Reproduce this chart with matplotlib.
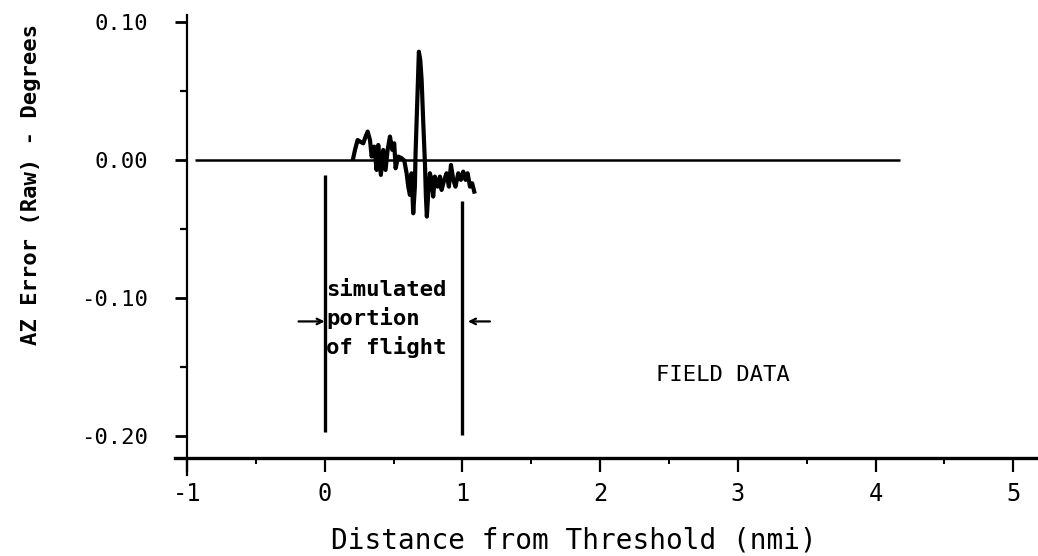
"""AZ error (raw) vs distance from threshold -- field data trace."""
import matplotlib
matplotlib.use("Agg")
import matplotlib.pyplot as plt  # noqa: E402
from matplotlib.ticker import FixedLocator  # noqa: E402

dist = [0.207, 0.220, 0.239, 0.256, 0.280, 0.297, 0.312, 0.329, 0.341, 0.360,
        0.377, 0.389, 0.408, 0.425, 0.442, 0.457, 0.474, 0.491, 0.505, 0.515,
        0.534, 0.558, 0.578, 0.595, 0.607, 0.619, 0.631, 0.643, 0.655, 0.660,
        0.667, 0.675, 0.684, 0.694, 0.704, 0.716, 0.728, 0.735, 0.742, 0.752,
        0.764, 0.776, 0.788, 0.800, 0.820, 0.837, 0.849, 0.868, 0.885, 0.902,
        0.917, 0.934, 0.950, 0.970, 0.989, 1.006, 1.023, 1.038, 1.055, 1.071,
        1.086]
az_err = [0.0013, 0.0073, 0.0145, 0.0134, 0.0121, 0.0170, 0.0206, 0.0145, 0.0025, 0.0097,
          -0.0072, 0.0109, -0.0108, 0.0073, -0.0072, 0.0073, 0.0170, 0.0073, 0.0121, -0.0060,
          0.0025, 0.0013, -0.0004, -0.0096, -0.0193, -0.0253, -0.0096, -0.0386, -0.0193, 0.0049,
          0.0266, 0.0508, 0.0785, 0.0725, 0.0580, 0.0266, -0.0024, -0.0265, -0.0410, -0.0241,
          -0.0096, -0.0144, -0.0265, -0.0120, -0.0193, -0.0120, -0.0217, -0.0144, -0.0096, -0.0193,
          -0.0036, -0.0144, -0.0193, -0.0096, -0.0144, -0.0084, -0.0144, -0.0096, -0.0193, -0.0169,
          -0.0229]

x_ticks = [-1, 0, 1, 2, 3, 4, 5]
x_minor = [-0.5, 0.5, 1.5, 2.5, 3.5, 4.5]
y_ticks = [0.10, 0.00, -0.10, -0.20]
y_labels = ["0.10", "0.00", "-0.10", "-0.20"]
y_minor = [0.05, -0.05, -0.15]

zero_line = (-0.94, 4.18)          # extent of the 0.00 reference line
sim_bounds = [0.0, 1.0]            # simulated portion of flight
sim_tops = [-0.011, -0.030]
sim_bottoms = [-0.197, -0.199]

MONO = "DejaVu Sans Mono"

fig = plt.figure(figsize=(10.38, 5.56), dpi=100)
ax = fig.add_axes([175 / 1038, 81 / 556, 863 / 1038, 460 / 556])
ax.set_xlim(-1.087, 5.18)
ax.set_ylim(-0.2283, 0.1051)

for s in ("top", "right"):
    ax.spines[s].set_visible(False)
ax.spines["left"].set_position(("data", -1))
ax.spines["bottom"].set_position(("data", -0.216))
ax.spines["left"].set_linewidth(1.6)
ax.spines["bottom"].set_linewidth(2.4)

ax.xaxis.set_major_locator(FixedLocator(x_ticks))
ax.xaxis.set_minor_locator(FixedLocator(x_minor))
ax.set_xticklabels([str(v) for v in x_ticks])
ax.yaxis.set_major_locator(FixedLocator(y_ticks))
ax.yaxis.set_minor_locator(FixedLocator(y_minor))
ax.set_yticklabels(y_labels)

ax.tick_params(axis="x", which="major", direction="out", length=10, width=1.6,
               pad=7, labelsize=17)
ax.tick_params(axis="x", which="minor", direction="out", length=4, width=1.4)
ax.tick_params(axis="y", which="major", direction="out", length=9, width=2,
               pad=19, labelsize=16)
ax.tick_params(axis="y", which="minor", direction="out", length=5, width=1.6)
for lab in ax.get_xticklabels() + ax.get_yticklabels():
    lab.set_family(MONO)

# zero reference line and field-data trace
ax.hlines(0, *zero_line, color="black", lw=1.8)
ax.plot(dist, az_err, color="black", lw=3.0, solid_joinstyle="round")

# simulated portion markers
ax.vlines(sim_bounds, sim_tops, sim_bottoms, color="black", lw=2.4)
ax.text(0.012, -0.087, "simulated\nportion\nof flight", family=MONO,
        fontweight="bold", fontsize=16, ha="left", va="top", linespacing=1.38)
ax.annotate("", xy=(0.02, -0.117), xytext=(-0.21, -0.117),
            arrowprops=dict(arrowstyle="->", lw=1.6, color="black"))
ax.annotate("", xy=(1.02, -0.117), xytext=(1.22, -0.117),
            arrowprops=dict(arrowstyle="->", lw=1.6, color="black"))

ax.text(2.89, -0.156, "FIELD DATA", family=MONO, fontsize=16,
        ha="center", va="center")

fig.text(31 / 1038, 1 - 185 / 556, "AZ Error (Raw) - Degrees", family=MONO,
         fontweight="bold", fontsize=16, rotation=90, ha="center", va="center")
fig.text(574 / 1038, 1 - 540 / 556, "Distance from Threshold (nmi)", family=MONO,
         fontsize=20, ha="center", va="center")

fig.savefig("out.png", dpi=100)
